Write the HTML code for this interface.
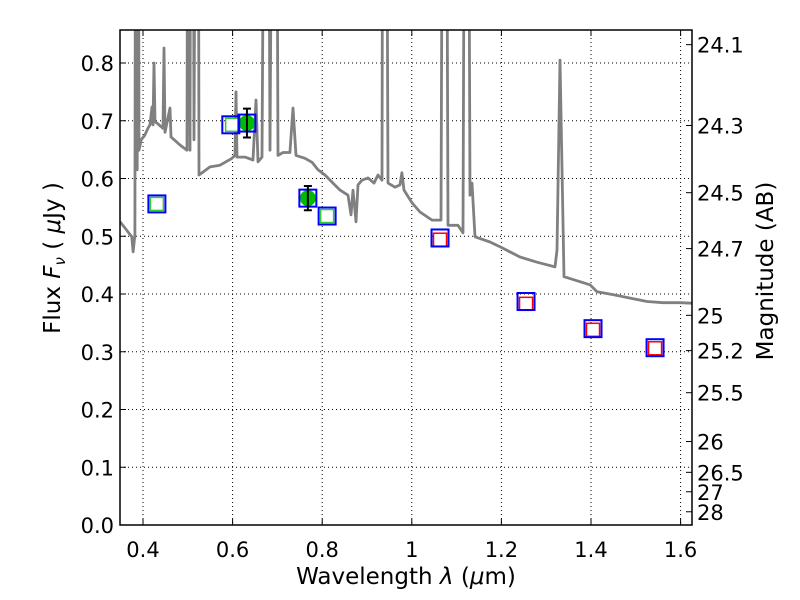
<!DOCTYPE html>
<html><head><meta charset="utf-8"><style>
body{margin:0;background:#fff}
svg{display:block;font-family:"DejaVu Sans","Liberation Sans",sans-serif}
</style></head><body>
<svg id="chart" width="800" height="600" viewBox="0 0 800 600" xmlns="http://www.w3.org/2000/svg">
<rect width="800" height="600" fill="#fff"/>
<defs><clipPath id="clip"><rect x="120" y="30" width="572" height="495"/></clipPath></defs>
<g id="grid"></g>
<g id="spec" clip-path="url(#clip)"></g>
<g id="marks"></g>
<g id="axes"></g>
</svg>
<script>
const specLam=[
0.349,0.367,0.375,0.378,0.382,0.384,0.387,0.389,0.391,0.396,
0.404,0.411,0.4156,0.420,0.4223,0.4246,0.4268,0.4313,0.4446,0.4469,
0.4491,0.4603,0.4625,0.4826,0.4982,0.5004,0.5049,0.5071,0.5116,0.5138,
0.5183,0.5228,0.525,0.5496,0.5719,0.5987,0.6054,0.6076,0.6098,0.6277,
0.6455,0.6522,0.6567,0.6656,0.6723,0.679,0.6835,0.690,0.697,0.7013,
0.7125,0.728,0.7348,0.7415,0.7616,0.7772,0.7906,0.8063,0.8241,0.8397,
0.8576,0.8643,0.8688,0.8754,0.8799,0.8888,0.9022,0.9156,0.9246,0.9335,
0.9357,0.9424,0.9469,0.9625,0.9737,0.978,0.9826,1.0004,1.0183,1.0451,
1.0652,1.0696,1.0763,1.0808,1.1031,1.1143,1.1188,1.1254,1.1299,1.1344,
1.1411,1.1746,1.2013,1.2415,1.2795,1.3196,1.3241,1.3308,1.3397,1.3978,
1.4134,1.4491,1.525,1.5607,1.5987,1.6254];
const specFlux=[
0.525,0.507,0.499,0.473,0.502,1.5,0.615,1.5,0.649,0.667,
0.675,0.687,0.693,0.724,0.693,0.800,0.698,0.696,0.687,0.826,
0.680,0.722,0.672,0.658,0.649,1.5,0.649,1.5,1.5,0.667,
1.5,1.5,0.606,0.620,0.623,0.635,0.640,0.750,0.637,0.637,
0.632,0.736,0.629,0.637,1.5,1.5,0.649,1.5,1.5,0.640,
0.645,0.645,0.722,0.640,0.635,0.628,0.615,0.606,0.592,0.580,
0.571,0.537,0.580,0.525,0.589,0.597,0.601,0.592,0.606,0.597,
1.5,1.5,0.592,0.585,0.589,0.610,0.580,0.558,0.542,0.528,
0.528,1.5,1.5,0.519,0.519,0.506,1.5,1.5,0.571,0.592,
0.499,0.490,0.480,0.464,0.455,0.447,0.476,0.805,0.430,0.416,
0.404,0.399,0.387,0.385,0.385,0.384];
const openLam=[0.431,0.599,0.811];
const openFlux=[0.556,0.693,0.535];
const detLam=[0.632,0.768];
const detFlux=[0.696,0.566];
const detErr=[0.025,0.021];
const redLam=[1.063,1.255,1.4045,1.543];
const redFlux=[0.494,0.383,0.338,0.306];
const blueLam=[0.431,0.596,0.632,0.768,0.811,1.063,1.255,1.4045,1.543];
const blueFlux=[0.556,0.693,0.696,0.566,0.535,0.497,0.387,0.340,0.307];
const xTicks=[0.4,0.6,0.8,1.0,1.2,1.4,1.6];
const xTickLabels=["0.4","0.6","0.8","1","1.2","1.4","1.6"];
const yTicks=[0,0.1,0.2,0.3,0.4,0.5,0.6,0.7,0.8];
const yTickLabels=["0.0","0.1","0.2","0.3","0.4","0.5","0.6","0.7","0.8"];
const magTicks=[24.1,24.3,24.5,24.7,25,25.2,25.5,26,26.5,27,28];
const magTickLabels=["24.1","24.3","24.5","24.7","25","25.2","25.5","26","26.5","27","28"];

const L=120,R=692,T=30,B=525;
const X=v=>143+(v-0.4)*448;
const Y=v=>525-v*577.5;
const magToFlux=m=>Math.pow(10,(23.9-m)/2.5);
const NS="http://www.w3.org/2000/svg";
function mk(tag,attrs,parent){const e=document.createElementNS(NS,tag);for(const k in attrs)e.setAttribute(k,attrs[k]);parent.appendChild(e);return e;}
const grid=document.getElementById('grid'),spec=document.getElementById('spec'),marks=document.getElementById('marks'),axes=document.getElementById('axes');

xTicks.forEach((t,i)=>{
  const gl=mk('line',{x1:X(t),x2:X(t),y1:T,y2:B,stroke:'#000','stroke-width':1,'stroke-dasharray':'1,3'},grid);
  
  
  mk('line',{x1:X(t),x2:X(t),y1:B,y2:B-6,stroke:'#000'},axes);
  mk('line',{x1:X(t),x2:X(t),y1:T,y2:T+6,stroke:'#000'},axes);
  const tx=mk('text',{x:X(t),y:557,'font-size':21,'text-anchor':'middle'},axes);
  tx.textContent=xTickLabels[i];
  
  
});
yTicks.forEach((t,i)=>{
  const gl=mk('line',{x1:L,x2:R,y1:Y(t),y2:Y(t),stroke:'#000','stroke-width':1,'stroke-dasharray':'1,3'},grid);
  
  
  mk('line',{x1:L,x2:L+6,y1:Y(t),y2:Y(t),stroke:'#000'},axes);
  const tx=mk('text',{x:114,y:Y(t)+8,'font-size':21,'text-anchor':'end'},axes);
  tx.textContent=yTickLabels[i];
  
  
});
magTicks.forEach((m,i)=>{
  const y=Y(magToFlux(m));
  mk('line',{x1:R,x2:R-6,y1:y,y2:y,stroke:'#000'},axes);
  const tx=mk('text',{x:697,y:y+8,'font-size':21},axes);
  tx.textContent=magTickLabels[i];
  
  
});

const pts=specLam.map((l,i)=>X(l).toFixed(1)+','+Y(specFlux[i]).toFixed(1)).join(' ');
const pl=mk('polyline',{points:pts,fill:'none',stroke:'#808080','stroke-width':2.8,'stroke-linejoin':'round'},spec);



openLam.forEach((l,i)=>{
  const r=mk('rect',{x:X(l)-6.5,y:Y(openFlux[i])-6.5,width:13,height:13,fill:'#fff',stroke:'#3c3','stroke-width':1.5},marks);
  
  
});
redLam.forEach((l,i)=>{
  const r=mk('rect',{x:X(l)-6.5,y:Y(redFlux[i])-6.5,width:13,height:13,fill:'#fff',stroke:'#f00','stroke-width':1.5},marks);
  
  
});
detLam.forEach((l,i)=>{
  const c=mk('circle',{cx:X(l),cy:Y(detFlux[i]),r:8,fill:'#0b0'},marks);
  
  
});
blueLam.forEach((l,i)=>{
  const r=mk('rect',{x:X(l)-8.5,y:Y(blueFlux[i])-8.5,width:17,height:17,fill:'none',stroke:'#00f','stroke-width':2},marks);
  
  
});
detLam.forEach((l,i)=>{
  const x=X(l),y1=Y(detFlux[i]+detErr[i]),y2=Y(detFlux[i]-detErr[i]);
  const g=mk('g',{stroke:'#000','stroke-width':2},marks);
  
  
  mk('line',{x1:x,x2:x,y1:y1,y2:y2},g);
  mk('line',{x1:x-4,x2:x+4,y1:y1,y2:y1},g);
  mk('line',{x1:x-4,x2:x+4,y1:y2,y2:y2},g);
});

const fr=mk('rect',{x:L,y:T,width:R-L,height:B-T,fill:'none',stroke:'#000','stroke-width':1.5},axes);


const xl=mk('text',{x:406,y:584,'font-size':23,'text-anchor':'middle'},axes);
xl.innerHTML='Wavelength  <tspan font-style="italic">λ</tspan> (<tspan font-style="italic">μ</tspan>m)';


const yl=mk('text',{x:0,y:0,'font-size':23,'text-anchor':'middle',transform:'translate(60,258) rotate(-90)'},axes);
yl.innerHTML='Flux  <tspan font-style="italic">F</tspan><tspan font-style="italic" font-size="15" dy="5">ν</tspan><tspan dy="-5">  (  <tspan font-style="italic">μ</tspan>Jy )</tspan>';


const ml=mk('text',{x:0,y:0,'font-size':23,'text-anchor':'middle',transform:'translate(773,271) rotate(-90)'},axes);
ml.textContent='Magnitude (AB)';


</script>
</body></html>
